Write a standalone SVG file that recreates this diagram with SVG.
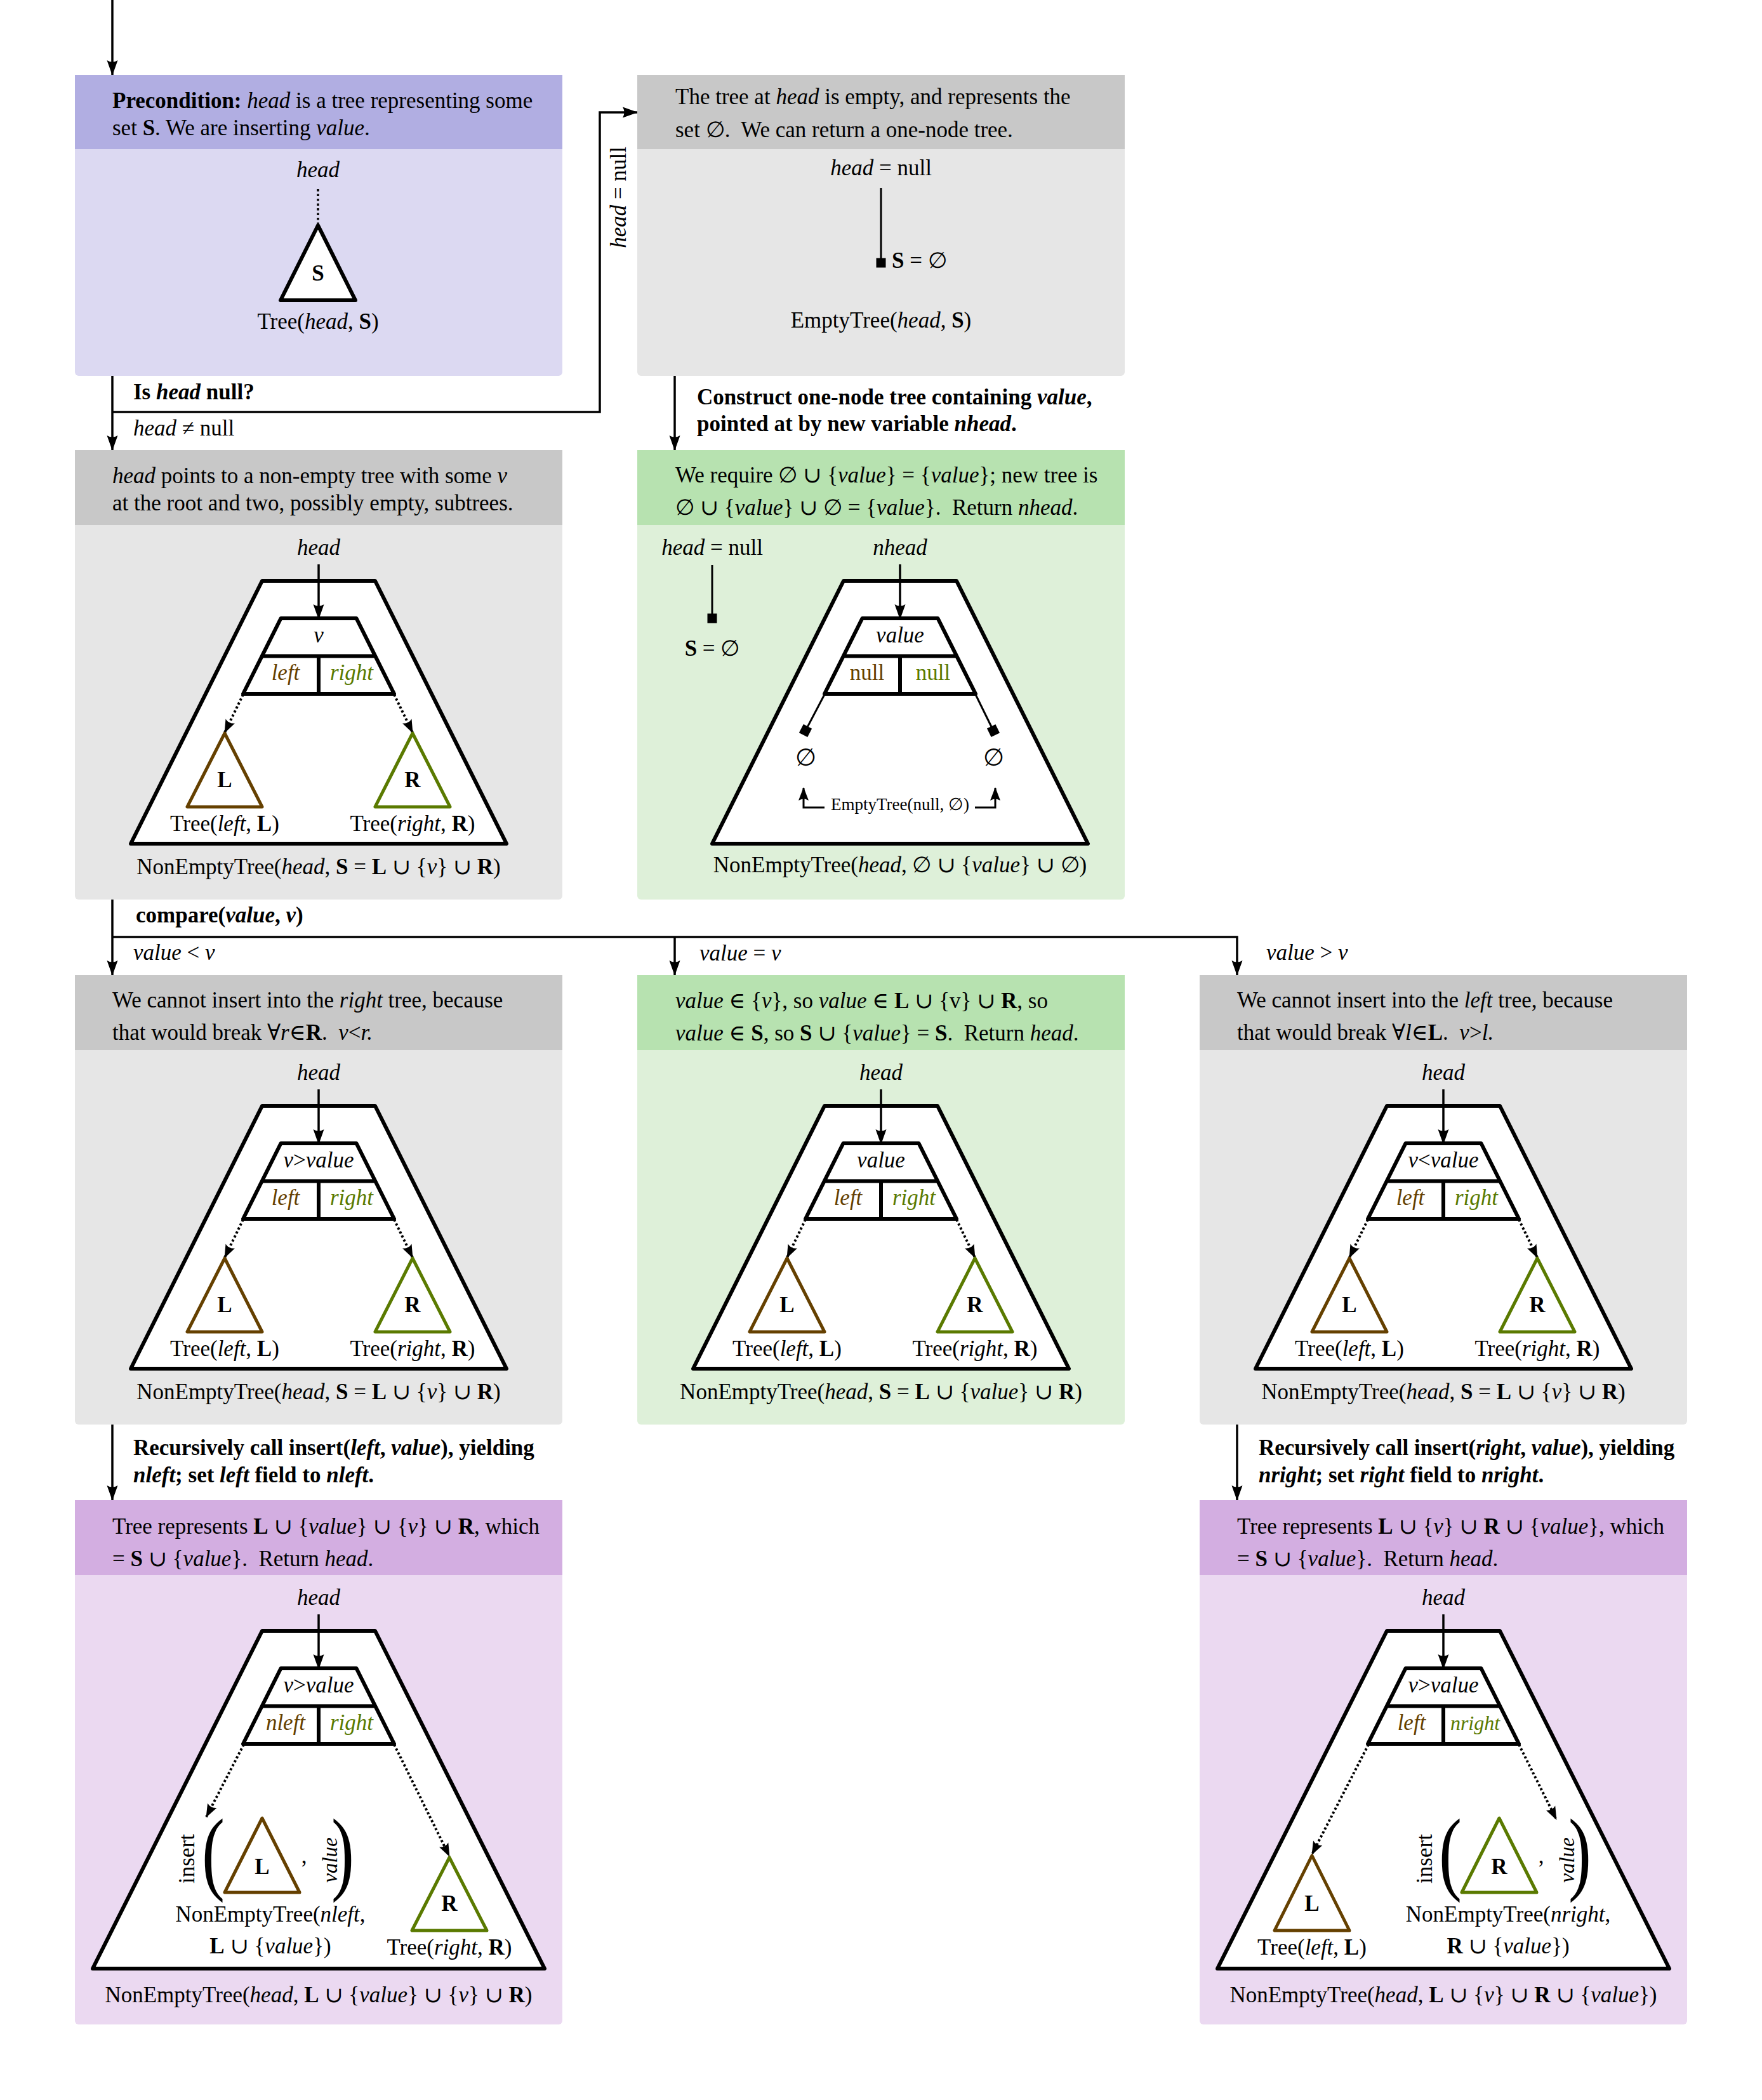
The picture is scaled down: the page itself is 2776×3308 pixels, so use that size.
<svg xmlns="http://www.w3.org/2000/svg" xmlns:xlink="http://www.w3.org/1999/xlink" width="2776" height="3308" viewBox="0 0 2776 3308">
<style>
text { font-family: "Liberation Serif", "DejaVu Serif", serif; font-size: 35px; fill: #000; }
.i { font-style: italic; }
.b { font-weight: bold; }
.n { font-style: normal; }
.m { text-anchor: middle; }
.sm { font-size: 27px; }
.par { font-size: 144px; }
.cb { fill: #654000; }
.cg { fill: #5a7a00; }
.conn { fill: none; stroke: #000; stroke-width: 3.5; }
.arr { marker-end: url(#ah); }
.thick { fill: #fff; stroke: #000; stroke-width: 6; stroke-linejoin: round; }
.ln6 { stroke: #000; stroke-width: 6; }
.dot { stroke: #000; stroke-width: 4; stroke-dasharray: 3.5 3.5; fill: none; marker-end: url(#ahs); }
.sol { stroke: #000; stroke-width: 3; fill: none; }
.trL { fill: #fff; stroke: #654000; stroke-width: 5; stroke-linejoin: round; }
.trR { fill: #fff; stroke: #5a7a00; stroke-width: 5; stroke-linejoin: round; }
.bodyP { fill: #dcd9f2; } .headP { fill: #b1aee2; }
.bodyG { fill: #e6e6e6; } .headG { fill: #c8c8c8; }
.bodyN { fill: #def0d9; } .headN { fill: #b7e2b0; }
.bodyU { fill: #ebd9f1; } .headU { fill: #d3aee1; }
</style>
<defs>
<marker id="ah" markerUnits="userSpaceOnUse" markerWidth="30" markerHeight="20" viewBox="-26 -10 28 20" refX="0" refY="0" orient="auto" overflow="visible">
<path d="M1,0 L-23,-8.5 Q-18,0 -23,8.5 Z" fill="#000"/>
</marker>
<marker id="ahs" markerUnits="userSpaceOnUse" markerWidth="24" markerHeight="18" viewBox="-22 -9 24 18" refX="0" refY="0" orient="auto" overflow="visible">
<path d="M1,0 L-20,-8 Q-15,0 -20,8 Z" fill="#000"/>
</marker>
<marker id="sq" markerUnits="userSpaceOnUse" markerWidth="18" markerHeight="18" viewBox="-9 -9 18 18" refX="0" refY="0" orient="auto" overflow="visible">
<rect x="-7.5" y="-7.5" width="15" height="15" fill="#000"/>
</marker>
<g id="node">
<polygon class="thick" points="-59.5,265 59.5,265 119,384 -119,384"/>
<line class="ln6" x1="-89.5" y1="324.5" x2="89.5" y2="324.5"/>
<line class="ln6" x1="0" y1="324.5" x2="0" y2="384"/>
<line class="conn arr" x1="0" y1="180" x2="0" y2="266"/>
</g>
<g id="std">
<polygon class="thick" points="-89,206 89,206 296,620 -296,620"/>
<use xlink:href="#node"/>
<line class="dot" x1="-119" y1="385" x2="-148" y2="445"/>
<line class="dot" x1="119" y1="385" x2="148" y2="445"/>
<polygon class="trL" points="-148,446 -207,562 -89,562"/>
<polygon class="trR" points="148,446 89,562 207,562"/>
</g>
<g id="tall">
<polygon class="thick" points="-89,206 89,206 356,738 -356,738"/>
<use xlink:href="#node"/>
</g>
</defs>

<g id="connectors">
<path class="conn arr" d="M177,0 V118"/>
<path class="conn arr" d="M177,592 V709"/>
<path class="conn arr" d="M177,649 H945 V177 H1004"/>
<path class="conn arr" d="M1063,592 V709"/>
<path class="conn arr" d="M177,1417 V1536"/>
<path class="conn arr" d="M177,1476 H1949 V1536"/>
<path class="conn arr" d="M1063,1476 V1536"/>
<path class="conn arr" d="M177,2244 V2363"/>
<path class="conn arr" d="M1949,2244 V2363"/>
<text x="210" y="629" class="b">Is <tspan class="i">head</tspan> null?</text>
<text x="210" y="686"><tspan class="i">head</tspan> ≠ null</text>
<text class="m" transform="translate(986,311) rotate(-90)"><tspan class="i">head</tspan> = null</text>
<text x="1098" y="637" class="b">Construct one-node tree containing <tspan class="i">value</tspan>,</text>
<text x="1098" y="679" class="b">pointed at by new variable <tspan class="i">nhead</tspan>.</text>
<text x="214" y="1453" class="b">compare(<tspan class="i">value</tspan>, <tspan class="i">v</tspan>)</text>
<text x="210" y="1512" class="i">value <tspan class="n">&lt;</tspan> v</text>
<text x="1102" y="1513" class="i">value <tspan class="n">=</tspan> v</text>
<text x="1995" y="1512" class="i">value <tspan class="n">&gt;</tspan> v</text>
<text x="210" y="2292" class="b">Recursively call insert(<tspan class="i">left</tspan>, <tspan class="i">value</tspan>), yielding</text>
<text x="210" y="2335" class="b"><tspan class="i">nleft</tspan>; set <tspan class="i">left</tspan> field to <tspan class="i">nleft</tspan>.</text>
<text x="1983" y="2292" class="b">Recursively call insert(<tspan class="i">right</tspan>, <tspan class="i">value</tspan>), yielding</text>
<text x="1983" y="2335" class="b"><tspan class="i">nright</tspan>; set <tspan class="i">right</tspan> field to <tspan class="i">nright</tspan>.</text>
</g>

<g id="n-precondition">
<rect class="bodyP" x="118" y="118" width="768" height="474" rx="6"/>
<rect class="headP" x="118" y="118" width="768" height="117"/>
<text x="177" y="170"><tspan class="b">Precondition:</tspan> <tspan class="i">head</tspan> is a tree representing some</text>
<text x="177" y="213">set <tspan class="b">S</tspan>. We are inserting <tspan class="i">value</tspan>.</text>
<text class="m i" x="501" y="279">head</text>
<line x1="501" y1="298" x2="501" y2="352" stroke="#000" stroke-width="3.5" stroke-dasharray="3.5 4"/>
<polygon class="thick" points="501,355 442,473 560,473"/>
<text class="m b" x="501" y="442">S</text>
<text class="m" x="501" y="518">Tree(<tspan class="i">head</tspan>, <tspan class="b">S</tspan>)</text>
</g>

<g id="n-empty">
<rect class="bodyG" x="1004" y="118" width="768" height="474" rx="6"/>
<rect class="headG" x="1004" y="118" width="768" height="117"/>
<text x="1064" y="164">The tree at <tspan class="i">head</tspan> is empty, and represents the</text>
<text x="1064" y="216">set ∅.&#160; We can return a one-node tree.</text>
<text class="m" x="1388" y="276"><tspan class="i">head</tspan> = null</text>
<line class="sol" x1="1388" y1="296" x2="1388" y2="414" marker-end="url(#sq)"/>
<text x="1405" y="422"><tspan class="b">S</tspan> = ∅</text>
<text class="m" x="1388" y="516">EmptyTree(<tspan class="i">head</tspan>, <tspan class="b">S</tspan>)</text>
</g>

<g id="n-nonempty">
<rect class="bodyG" x="118" y="709" width="768" height="708" rx="6"/>
<rect class="headG" x="118" y="709" width="768" height="118"/>
<text x="177" y="761"><tspan class="i">head</tspan> points to a non-empty tree with some <tspan class="i">v</tspan></text>
<text x="177" y="804">at the root and two, possibly empty, subtrees.</text>
<use xlink:href="#std" x="502" y="709"/>
<text class="m i" x="502" y="874">head</text>
<text class="m i" x="502" y="1012">v</text>
<text class="m i cb" x="450" y="1071">left</text>
<text class="m i cg" x="554" y="1071">right</text>
<text class="m b" x="354" y="1240">L</text>
<text class="m b" x="650" y="1240">R</text>
<text class="m" x="354" y="1309">Tree(<tspan class="i">left</tspan>, <tspan class="b">L</tspan>)</text>
<text class="m" x="650" y="1309">Tree(<tspan class="i">right</tspan>, <tspan class="b">R</tspan>)</text>
<text class="m" x="502" y="1377">NonEmptyTree(<tspan class="i">head</tspan>, <tspan class="b">S</tspan> = <tspan class="b">L</tspan> ∪ {<tspan class="i">v</tspan>} ∪ <tspan class="b">R</tspan>)</text>
</g>

<g id="n-onenode">
<rect class="bodyN" x="1004" y="709" width="768" height="708" rx="6"/>
<rect class="headN" x="1004" y="709" width="768" height="118"/>
<text x="1064" y="760">We require ∅ ∪ {<tspan class="i">value</tspan>} = {<tspan class="i">value</tspan>}; new tree is</text>
<text x="1064" y="811">∅ ∪ {<tspan class="i">value</tspan>} ∪ ∅ = {<tspan class="i">value</tspan>}.&#160; Return <tspan class="i">nhead</tspan>.</text>
<text class="m" x="1122" y="874"><tspan class="i">head</tspan> = null</text>
<line class="sol" x1="1122" y1="890" x2="1122" y2="974" marker-end="url(#sq)"/>
<text class="m" x="1122" y="1033"><tspan class="b">S</tspan> = ∅</text>
<polygon class="thick" points="1329,915 1507,915 1714,1329 1122,1329"/>
<use xlink:href="#node" x="1418" y="709"/>
<text class="m i" x="1418" y="874">nhead</text>
<text class="m i" x="1418" y="1012">value</text>
<text class="m cb" x="1366" y="1071">null</text>
<text class="m cg" x="1470" y="1071">null</text>
<line class="sol" x1="1299" y1="1094" x2="1269" y2="1151" marker-end="url(#sq)"/>
<line class="sol" x1="1537" y1="1094" x2="1565" y2="1151" marker-end="url(#sq)"/>
<text class="m" x="1269" y="1206" style="font-size:38px">∅</text>
<text class="m" x="1565" y="1206" style="font-size:38px">∅</text>
<text class="m sm" x="1418" y="1276">EmptyTree(null, ∅)</text>
<path class="sol" d="M1299,1272 H1266 V1241" marker-end="url(#ahs)"/>
<path class="sol" d="M1536,1272 H1568 V1241" marker-end="url(#ahs)"/>
<text class="m" x="1418" y="1374">NonEmptyTree(<tspan class="i">head</tspan>, ∅ ∪ {<tspan class="i">value</tspan>} ∪ ∅)</text>
</g>

<g id="n-less">
<rect class="bodyG" x="118" y="1536" width="768" height="708" rx="6"/>
<rect class="headG" x="118" y="1536" width="768" height="118"/>
<text x="177" y="1587">We cannot insert into the <tspan class="i">right</tspan> tree, because</text>
<text x="177" y="1638">that would break ∀<tspan class="i">r</tspan>∈<tspan class="b">R</tspan>.&#160; <tspan class="i">v</tspan>&lt;<tspan class="i">r.</tspan></text>
<use xlink:href="#std" x="502" y="1536"/>
<text class="m i" x="502" y="1701">head</text>
<text class="m i" x="502" y="1839">v<tspan class="n">&gt;</tspan>value</text>
<text class="m i cb" x="450" y="1898">left</text>
<text class="m i cg" x="554" y="1898">right</text>
<text class="m b" x="354" y="2067">L</text>
<text class="m b" x="650" y="2067">R</text>
<text class="m" x="354" y="2136">Tree(<tspan class="i">left</tspan>, <tspan class="b">L</tspan>)</text>
<text class="m" x="650" y="2136">Tree(<tspan class="i">right</tspan>, <tspan class="b">R</tspan>)</text>
<text class="m" x="502" y="2204">NonEmptyTree(<tspan class="i">head</tspan>, <tspan class="b">S</tspan> = <tspan class="b">L</tspan> ∪ {<tspan class="i">v</tspan>} ∪ <tspan class="b">R</tspan>)</text>
</g>

<g id="n-equal">
<rect class="bodyN" x="1004" y="1536" width="768" height="708" rx="6"/>
<rect class="headN" x="1004" y="1536" width="768" height="118"/>
<text x="1064" y="1588"><tspan class="i">value</tspan> ∈ {<tspan class="i">v</tspan>}, so <tspan class="i">value</tspan> ∈ <tspan class="b">L</tspan> ∪ {v} ∪ <tspan class="b">R</tspan>, so</text>
<text x="1064" y="1639"><tspan class="i">value</tspan> ∈ <tspan class="b">S</tspan>, so <tspan class="b">S</tspan> ∪ {<tspan class="i">value</tspan>} = <tspan class="b">S</tspan>.&#160; Return <tspan class="i">head</tspan>.</text>
<use xlink:href="#std" x="1388" y="1536"/>
<text class="m i" x="1388" y="1701">head</text>
<text class="m i" x="1388" y="1839">value</text>
<text class="m i cb" x="1336" y="1898">left</text>
<text class="m i cg" x="1440" y="1898">right</text>
<text class="m b" x="1240" y="2067">L</text>
<text class="m b" x="1536" y="2067">R</text>
<text class="m" x="1240" y="2136">Tree(<tspan class="i">left</tspan>, <tspan class="b">L</tspan>)</text>
<text class="m" x="1536" y="2136">Tree(<tspan class="i">right</tspan>, <tspan class="b">R</tspan>)</text>
<text class="m" x="1388" y="2204">NonEmptyTree(<tspan class="i">head</tspan>, <tspan class="b">S</tspan> = <tspan class="b">L</tspan> ∪ {<tspan class="i">value</tspan>} ∪ <tspan class="b">R</tspan>)</text>
</g>

<g id="n-greater">
<rect class="bodyG" x="1890" y="1536" width="768" height="708" rx="6"/>
<rect class="headG" x="1890" y="1536" width="768" height="118"/>
<text x="1949" y="1587">We cannot insert into the <tspan class="i">left</tspan> tree, because</text>
<text x="1949" y="1638">that would break ∀<tspan class="i">l</tspan>∈<tspan class="b">L</tspan>.&#160; <tspan class="i">v</tspan>&gt;<tspan class="i">l.</tspan></text>
<use xlink:href="#std" x="2274" y="1536"/>
<text class="m i" x="2274" y="1701">head</text>
<text class="m i" x="2274" y="1839">v<tspan class="n">&lt;</tspan>value</text>
<text class="m i cb" x="2222" y="1898">left</text>
<text class="m i cg" x="2326" y="1898">right</text>
<text class="m b" x="2126" y="2067">L</text>
<text class="m b" x="2422" y="2067">R</text>
<text class="m" x="2126" y="2136">Tree(<tspan class="i">left</tspan>, <tspan class="b">L</tspan>)</text>
<text class="m" x="2422" y="2136">Tree(<tspan class="i">right</tspan>, <tspan class="b">R</tspan>)</text>
<text class="m" x="2274" y="2204">NonEmptyTree(<tspan class="i">head</tspan>, <tspan class="b">S</tspan> = <tspan class="b">L</tspan> ∪ {<tspan class="i">v</tspan>} ∪ <tspan class="b">R</tspan>)</text>
</g>

<g id="n-insert-left">
<rect class="bodyU" x="118" y="2363" width="768" height="826" rx="6"/>
<rect class="headU" x="118" y="2363" width="768" height="118"/>
<text x="177" y="2416">Tree represents <tspan class="b">L</tspan> ∪ {<tspan class="i">value</tspan>} ∪ {<tspan class="i">v</tspan>} ∪ <tspan class="b">R</tspan>, which</text>
<text x="177" y="2467">= <tspan class="b">S</tspan> ∪ {<tspan class="i">value</tspan>}.&#160; Return <tspan class="i">head</tspan>.</text>
<use xlink:href="#tall" x="502" y="2363"/>
<text class="m i" x="502" y="2528">head</text>
<text class="m i" x="502" y="2666">v<tspan class="n">&gt;</tspan>value</text>
<text class="m i cb" x="450" y="2725">nleft</text>
<text class="m i cg" x="554" y="2725">right</text>
<line class="dot" x1="384" y1="2748" x2="325" y2="2862"/>
<line class="dot" x1="621" y1="2748" x2="708" y2="2924"/>
<polygon class="trL" points="413,2864 354,2981 472,2981"/>
<text class="m b" x="413" y="2952">L</text>
<text class="m" transform="translate(306,2928) rotate(-90)">insert</text>
<text class="m par" transform="translate(336,2966) scale(0.75,1.02)">(</text>
<text class="m" x="479" y="2935">,</text>
<text class="m i" style="font-size:33px" transform="translate(531,2930) rotate(-90)">value</text>
<text class="m par" transform="translate(540,2966) scale(0.75,1.02)">)</text>
<text class="m" x="426" y="3027">NonEmptyTree(<tspan class="i">nleft</tspan>,</text>
<text class="m" x="426" y="3077"><tspan class="b">L</tspan> ∪ {<tspan class="i">value</tspan>})</text>
<polygon class="trR" points="708,2926 649,3041 767,3041"/>
<text class="m b" x="708" y="3010">R</text>
<text class="m" x="708" y="3079">Tree(<tspan class="i">right</tspan>, <tspan class="b">R</tspan>)</text>
<text class="m" x="502" y="3154">NonEmptyTree(<tspan class="i">head</tspan>, <tspan class="b">L</tspan> ∪ {<tspan class="i">value</tspan>} ∪ {<tspan class="i">v</tspan>} ∪ <tspan class="b">R</tspan>)</text>
</g>

<g id="n-insert-right">
<rect class="bodyU" x="1890" y="2363" width="768" height="826" rx="6"/>
<rect class="headU" x="1890" y="2363" width="768" height="118"/>
<text x="1949" y="2416">Tree represents <tspan class="b">L</tspan> ∪ {<tspan class="i">v</tspan>} ∪ <tspan class="b">R</tspan> ∪ {<tspan class="i">value</tspan>}, which</text>
<text x="1949" y="2467">= <tspan class="b">S</tspan> ∪ {<tspan class="i">value</tspan>}.&#160; Return <tspan class="i">head</tspan>.</text>
<use xlink:href="#tall" x="2274" y="2363"/>
<text class="m i" x="2274" y="2528">head</text>
<text class="m i" x="2274" y="2666">v<tspan class="n">&gt;</tspan>value</text>
<text class="m i cb" x="2224" y="2725">left</text>
<text class="m i cg" x="2324" y="2725" style="font-size:32px">nright</text>
<line class="dot" x1="2156" y1="2748" x2="2067" y2="2921"/>
<line class="dot" x1="2393" y1="2748" x2="2452" y2="2866"/>
<polygon class="trL" points="2067,2923 2008,3041 2126,3041"/>
<text class="m b" x="2067" y="3010">L</text>
<text class="m" x="2067" y="3079">Tree(<tspan class="i">left</tspan>, <tspan class="b">L</tspan>)</text>
<polygon class="trR" points="2362,2864 2303,2981 2421,2981"/>
<text class="m b" x="2362" y="2952">R</text>
<text class="m" transform="translate(2256,2928) rotate(-90)">insert</text>
<text class="m par" transform="translate(2285,2966) scale(0.75,1.02)">(</text>
<text class="m" x="2428" y="2935">,</text>
<text class="m i" style="font-size:33px" transform="translate(2480,2930) rotate(-90)">value</text>
<text class="m par" transform="translate(2489,2966) scale(0.75,1.02)">)</text>
<text class="m" x="2376" y="3027">NonEmptyTree(<tspan class="i">nright</tspan>,</text>
<text class="m" x="2376" y="3077"><tspan class="b">R</tspan> ∪ {<tspan class="i">value</tspan>})</text>
<text class="m" x="2274" y="3154">NonEmptyTree(<tspan class="i">head</tspan>, <tspan class="b">L</tspan> ∪ {<tspan class="i">v</tspan>} ∪ <tspan class="b">R</tspan> ∪ {<tspan class="i">value</tspan>})</text>
</g>
</svg>
